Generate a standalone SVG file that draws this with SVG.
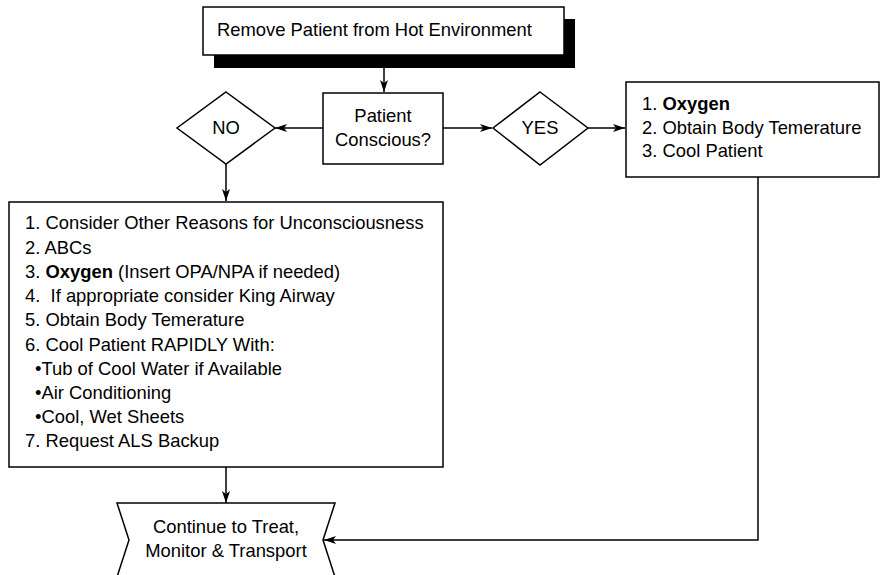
<svg xmlns="http://www.w3.org/2000/svg" width="881" height="575" viewBox="0 0 881 575">
<style>
.n{fill:#fff;stroke:#000;stroke-width:1.5}
.t{font-family:"Liberation Sans",Arial,sans-serif;font-size:18.4px;fill:#000}
.c{text-anchor:middle}
.b{font-weight:bold}
.e{fill:none;stroke:#000;stroke-width:1.5}
</style>
<defs>
<marker id="a" viewBox="0 0 12 8" refX="12" refY="4" markerWidth="12" markerHeight="8" markerUnits="userSpaceOnUse" orient="auto">
<path d="M0,0 L12,4 L0,8 L3,4 Z" fill="#000"/>
</marker>
</defs>
<rect width="881" height="575" fill="#fff"/>
<g id="connectors">
<path class="e" d="M384,68 V92" marker-end="url(#a)"/>
<path class="e" d="M323,128 H275" marker-end="url(#a)"/>
<path class="e" d="M443,128 H492" marker-end="url(#a)"/>
<path class="e" d="M588,128 H625" marker-end="url(#a)"/>
<path class="e" d="M226,164 V201" marker-end="url(#a)"/>
<path class="e" d="M226,467 V503" marker-end="url(#a)"/>
<path class="e" d="M758,177 V540 H324" marker-end="url(#a)"/>
</g>
<g id="remove">
<rect x="214" y="19" width="361" height="49" fill="#000"/>
<rect class="n" x="203" y="7" width="361" height="48"/>
<text class="t" x="217" y="36">Remove Patient from Hot Environment</text>
</g>
<g id="conscious">
<rect class="n" x="323" y="93" width="120" height="71"/>
<text class="t c" x="383" y="122">Patient</text>
<text class="t c" x="383" y="146">Conscious?</text>
</g>
<g id="no">
<path class="n" d="M226,92 L275,128 L226,164 L177,128 Z"/>
<text class="t c" x="226" y="134">NO</text>
</g>
<g id="yes">
<path class="n" d="M540,92 L588,128 L540,165 L493,128 Z"/>
<text class="t c" x="540" y="134">YES</text>
</g>
<g id="conscious-steps">
<rect class="n" x="626" y="82" width="253" height="95"/>
<text class="t" x="642" y="110">1. <tspan class="b">Oxygen</tspan></text>
<text class="t" x="642" y="134">2. Obtain Body Temerature</text>
<text class="t" x="642" y="157">3. Cool Patient</text>
</g>
<g id="unconscious-steps">
<rect class="n" x="9" y="202" width="434" height="265"/>
<text class="t" x="25" y="229">1. Consider Other Reasons for Unconsciousness</text>
<text class="t" x="25" y="254">2. ABCs</text>
<text class="t" x="25" y="278">3. <tspan class="b">Oxygen</tspan> (Insert OPA/NPA if needed)</text>
<text class="t" x="25" y="302" xml:space="preserve">4.  If appropriate consider King Airway</text>
<text class="t" x="25" y="326">5. Obtain Body Temerature</text>
<text class="t" x="25" y="351">6. Cool Patient RAPIDLY With:</text>
<text class="t" x="35" y="375">•Tub of Cool Water if Available</text>
<text class="t" x="35" y="399">•Air Conditioning</text>
<text class="t" x="35" y="423">•Cool, Wet Sheets</text>
<text class="t" x="25" y="447">7. Request ALS Backup</text>
</g>
<g id="continue">
<path class="n" d="M117,503 L335,503 L323,540 L335,577 L117,577 L129,540 Z"/>
<text class="t c" x="226" y="533">Continue to Treat,</text>
<text class="t c" x="226" y="557">Monitor &amp; Transport</text>
</g>
</svg>
